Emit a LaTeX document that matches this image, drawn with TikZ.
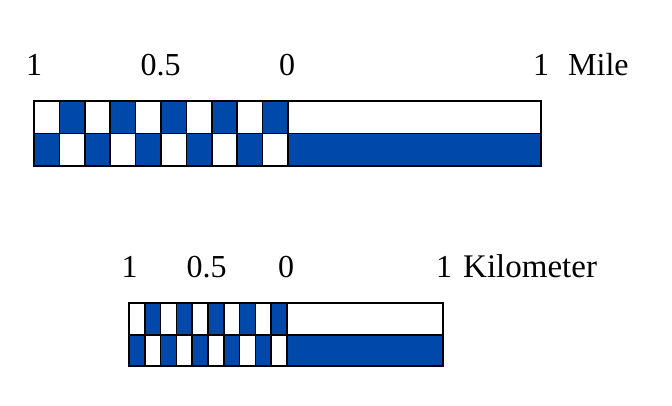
\documentclass[tikz,border=0pt]{standalone}
\usepackage{fontspec}
\setmainfont{Liberation Serif}
\definecolor{barblue}{RGB}{0,72,170}
\begin{document}
\begin{tikzpicture}[x=1pt,y=-1pt,
  lbl/.style={anchor=base,inner sep=0pt,font=\fontsize{32}{38}\selectfont},
  unitlbl/.style={anchor=base west,inner sep=0pt,font=\fontsize{32}{38}\selectfont},
  cellfill/.style={fill=barblue,draw=none},
  gridline/.style={draw=black,line width=1.6pt},
  outline/.style={draw=black,line width=2pt}]
\useasboundingbox (0,0) rectangle (672,406);
% ---------- Mile bar ----------
\def\mL{34}\def\mZ{288}\def\mR{541}\def\mT{101}\def\mM{133.5}\def\mB{166}
\pgfmathsetmacro{\mw}{(\mZ-\mL)/10}
\foreach \i in {0,...,9}{
  \pgfmathsetmacro{\xa}{\mL+\i*\mw}
  \pgfmathsetmacro{\xb}{\mL+(\i+1)*\mw}
  \ifodd\i
    \fill[cellfill] (\xa,\mT) rectangle (\xb,\mM);
  \else
    \fill[cellfill] (\xa,\mM) rectangle (\xb,\mB);
  \fi
}
\fill[cellfill] (\mZ,\mM) rectangle (\mR,\mB);
\foreach \i in {1,...,10}{
  \pgfmathsetmacro{\xa}{\mL+\i*\mw}
  \draw[gridline] (\xa,\mT) -- (\xa,\mB);
}
\draw[gridline] (\mL,\mM) -- (\mR,\mM);
\draw[outline] (\mL,\mT) rectangle (\mR,\mB);
\node[lbl] (m1) at (34,76) {1};
\node[lbl] (m05) at (160.5,76) {0.5};
\node[lbl] (m0) at (287,76) {0};
\node[lbl] (m1r) at (541,76) {1};
\node[unitlbl] (mile) at (568,76) {Mile};
% ---------- Kilometer bar ----------
\def\kL{129}\def\kZ{287}\def\kR{443}\def\kT{303}\def\kM{335}\def\kB{366}
\pgfmathsetmacro{\kw}{(\kZ-\kL)/10}
\foreach \i in {0,...,9}{
  \pgfmathsetmacro{\xa}{\kL+\i*\kw}
  \pgfmathsetmacro{\xb}{\kL+(\i+1)*\kw}
  \ifodd\i
    \fill[cellfill] (\xa,\kT) rectangle (\xb,\kM);
  \else
    \fill[cellfill] (\xa,\kM) rectangle (\xb,\kB);
  \fi
}
\fill[cellfill] (\kZ,\kM) rectangle (\kR,\kB);
\foreach \i in {1,...,10}{
  \pgfmathsetmacro{\xa}{\kL+\i*\kw}
  \draw[gridline] (\xa,\kT) -- (\xa,\kB);
}
\draw[gridline] (\kL,\kM) -- (\kR,\kM);
\draw[outline] (\kL,\kT) rectangle (\kR,\kB);
\node[lbl] (k1) at (129.5,277) {1};
\node[lbl] (k05) at (206.7,277) {0.5};
\node[lbl] (k0) at (286,277) {0};
\node[lbl] (k1r) at (444,277) {1};
\node[unitlbl,font=\fontsize{33}{38}\selectfont] (km) at (463,277) {Kilometer};
\end{tikzpicture}
\end{document}
